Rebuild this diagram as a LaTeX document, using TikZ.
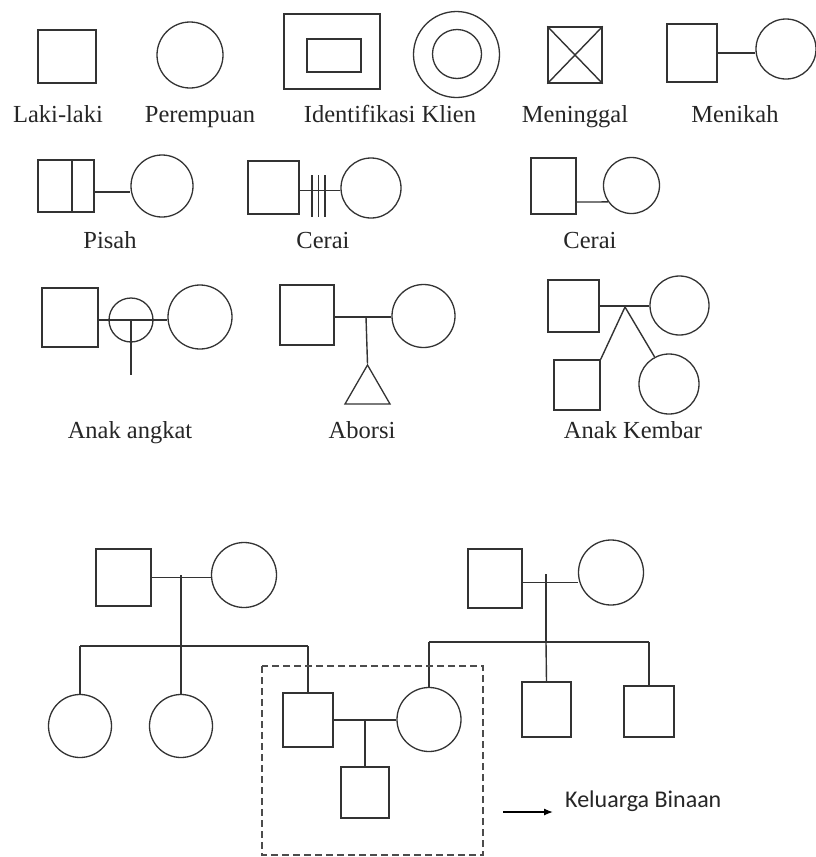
\documentclass[tikz,border=0pt]{standalone}
\usepackage{fontspec}
\setmainfont{Liberation Serif}
\newfontfamily\calfont{Carlito}
\usetikzlibrary{arrows.meta,shapes.geometric,calc}

\begin{document}
\begin{tikzpicture}[x=1pt,y=-1pt,
  every node/.style={inner sep=0pt},
  male/.style={draw=black!80, rectangle, line width=1.4pt},
  female/.style={draw=black!80, circle, line width=1.3pt},
  tie/.style={draw=black!80, line width=1.4pt},
  lbl/.style={font=\fontsize{24.5}{28}\selectfont, text=black!85, anchor=base},
  sanslbl/.style={font=\calfont\fontsize{24}{28}\selectfont, text=black!85, anchor=base west},
  binaan/.style={draw=black!70, line width=1.5pt, dash pattern=on 7pt off 4pt},
  arrowline/.style={draw=black, line width=1.3pt, -{Latex[length=9pt,width=7pt]}}
]
\fill[white] (0,0) rectangle (815,857);
\useasboundingbox (0,0) rectangle (815,857);

% ---------- legend, row 1 ----------
\node[male, minimum width=58, minimum height=53] (ls) at (67,56.5) {};
\node[lbl] (lsL) at (58,122) {Laki-laki};

\node[female, minimum size=66] (pc) at (190,55) {};
\node[lbl] (pcL) at (200,122) {Perempuan};

\node[male, line width=1.7pt, minimum width=96, minimum height=75] (idO) at (332,51.5) {};
\node[male, line width=1.7pt, minimum width=54, minimum height=33] (idI) at (334,55.5) {};
\node[female, minimum size=86] (kcO) at (456.5,54.5) {};
\node[female, minimum size=49] (kcI) at (457,54) {};
\node[lbl] (idL) at (390,122) {Identifikasi Klien};

\node[male, minimum width=54, minimum height=56] (mg) at (575,55) {};
\draw[tie] (mg.north west) -- (mg.south east);
\draw[tie] (mg.north east) -- (mg.south west);
\node[lbl] (mgL) at (575,122) {Meninggal};

\node[male, minimum width=50, minimum height=58] (mks) at (692,53) {};
\node[female, minimum size=60] (mkc) at (786,49) {};
\draw[tie] (mks.east) -- (mks.east -| mkc.west);
\node[lbl] (mkL) at (735,122) {Menikah};

% ---------- legend, row 2 ----------
\node[male, minimum width=56, minimum height=52] (ps) at (66,186) {};
\draw[tie] ([xshift=6pt]ps.north) -- ([xshift=6pt]ps.south);
\node[female, minimum size=62] (psc) at (162,186) {};
\draw[tie] ([yshift=-6pt]ps.east) -- ([yshift=-6pt]ps.east -| psc.west);
\node[lbl] (psL) at (110,248) {Pisah};

\node[male, minimum width=51, minimum height=53] (cs1) at (273.5,187.5) {};
\node[female, minimum size=60] (cc1) at (371,188) {};
\draw[tie] ([yshift=-3pt]cs1.east) -- ([yshift=-3pt]cs1.east -| cc1.west);
\foreach \tx [count=\i] in {312,318.5,325} {
  \coordinate (tickT\i) at (\tx,175);
  \coordinate (tickB\i) at (\tx,217);
  \draw[tie] (tickT\i) -- (tickB\i);
}
\node[lbl] (cL1) at (323,248) {Cerai};

\node[male, minimum width=45, minimum height=56] (cs2) at (553.5,186) {};
\node[female, minimum size=56] (cc2) at (631.5,185.5) {};
\draw[tie] ([yshift=-16pt]cs2.east) -- (cc2.215);
\node[lbl] (cL2) at (590,248) {Cerai};

% ---------- legend, row 3 ----------
\node[male, minimum width=56, minimum height=59] (as) at (70,317.5) {};
\node[female, minimum size=44] (asc) at (131,320) {};
\node[female, minimum size=64] (abc) at (200,317) {};
\draw[tie] ([yshift=-2.5pt]as.east) -- ([yshift=-2.5pt]as.east -| abc.west);
\coordinate (asEnd) at (131,375);
\draw[tie] (asc.center) -- (asEnd);
\node[lbl] (aaL) at (130,438) {Anak angkat};

\node[male, minimum width=54, minimum height=60] (bs) at (307,315) {};
\node[female, minimum size=63] (bc) at (423.5,316) {};
\draw[tie] ([yshift=-2pt]bs.east) -- ([yshift=-2pt]bs.east -| bc.west);
\coordinate (abj) at (366,317);
\node[draw=black!80, line width=1.3pt, regular polygon, regular polygon sides=3,
      minimum size=52] (tri) at (367.5,391) {};
\draw[tie] (abj) -- (tri.corner 1);
\node[lbl] (abL) at (362,438) {Aborsi};

\node[male, minimum width=51, minimum height=52] (ks1) at (573.5,306) {};
\node[female, minimum size=59] (kc1) at (679.5,305.5) {};
\draw[tie] (ks1.east) -- (ks1.east -| kc1.west);
\coordinate (kj) at (625,307);
\node[male, minimum width=46, minimum height=50] (ks2) at (577,385) {};
\node[female, minimum size=60] (kc2) at (669,384) {};
\draw[tie] (kj) -- (ks2.north east);
\draw[tie] (kj) -- (kc2.118);
\node[lbl] (kbL) at (633,438) {Anak Kembar};

% ---------- genogram ----------
% paternal grandparents
\node[male, minimum width=55, minimum height=57] (g1s) at (123.5,577.5) {};
\node[female, minimum size=65] (g1c) at (244,575) {};
\draw[tie] (g1s.east) -- (g1s.east -| g1c.west);
\coordinate (g1j) at (181,575);
\coordinate (g1b) at (181,646);
\draw[tie] (g1j) -- (g1b);

\node[female, minimum size=63] (c1) at (80,726) {};
\node[female, minimum size=63] (c2) at (181,726) {};
\node[male, minimum width=50, minimum height=54] (fa) at (308,720) {};
\draw[tie] (c1.north |- g1b) -- (fa.north |- g1b);
\draw[tie] (c1.north |- g1b) -- (c1.north);
\draw[tie] (g1b) -- (c2.north);
\draw[tie] (fa.north |- g1b) -- (fa.north);

% maternal grandparents
\node[male, minimum width=54, minimum height=59] (g2s) at (495,578.5) {};
\node[female, minimum size=65] (g2c) at (611,572.5) {};
\draw[tie] ([yshift=-4pt]g2s.east) -- ([yshift=-4pt]g2s.east -| g2c.west);
\coordinate (g2j) at (546,574);
\coordinate (g2b) at (546,642);
\draw[tie] (g2j) -- (g2b);

\node[female, minimum size=64] (mo) at (429,719.5) {};
\node[male, minimum width=49, minimum height=55] (r1) at (546.5,709.5) {};
\node[male, minimum width=50, minimum height=51] (r2) at (649,711.5) {};
\draw[tie] (mo.north |- g2b) -- (r2.north |- g2b);
\draw[tie] (mo.north |- g2b) -- (mo.north);
\draw[tie] (g2b) -- (r1.north);
\draw[tie] (r2.north |- g2b) -- (r2.north);

% core family
\draw[tie] (fa.east) -- (fa.east -| mo.west);
\coordinate (fj) at (365,720);
\node[male, minimum width=48, minimum height=51] (ch) at (365,792.5) {};
\draw[tie] (fj) -- (ch.north);

\draw[binaan] (262,666) rectangle (483,855);

\coordinate (arrS) at (503,812);
\coordinate (arrE) at (553,812);
\draw[arrowline] (arrS) -- (arrE);
\node[sanslbl] (kbn) at (565,807) {Keluarga Binaan};

\end{tikzpicture}
\end{document}
